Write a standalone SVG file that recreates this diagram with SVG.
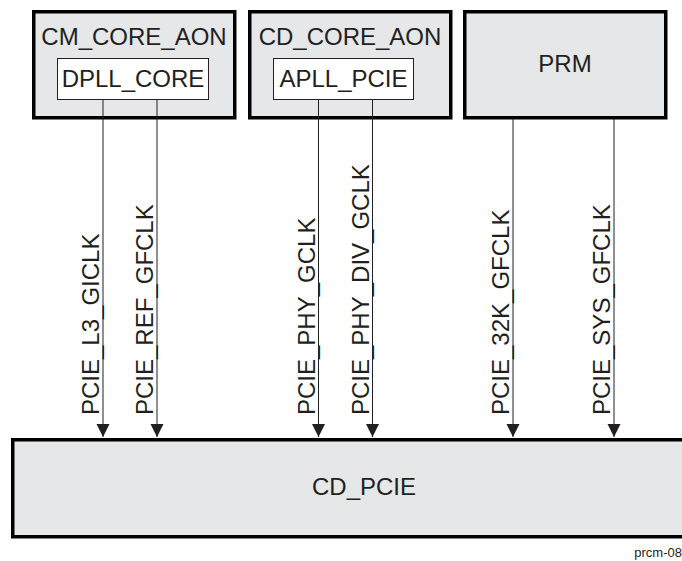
<svg xmlns="http://www.w3.org/2000/svg" width="682" height="561" viewBox="0 0 682 561">
<style>
.outer{fill:#e6e7e8;stroke:#000;stroke-width:3.5}
.inner{fill:#fff;stroke:#231f20;stroke-width:1}
.t{font-family:"Liberation Sans",Arial,sans-serif;font-size:24px;fill:#231f20;text-anchor:middle}
.lbl{font-family:"Liberation Sans",Arial,sans-serif;font-size:24px;fill:#231f20}
.wire{stroke:#231f20;stroke-width:1;fill:none;marker-end:url(#ah)}
.small{font-family:"Liberation Sans",Arial,sans-serif;font-size:13px;fill:#231f20;text-anchor:end}
</style>
<defs>
<marker id="ah" markerUnits="userSpaceOnUse" markerWidth="14" markerHeight="14" refX="13" refY="6.5" orient="auto">
<path d="M0,0 L13,6.5 L0,13 Z" fill="#231f20"/>
</marker>
</defs>
<g id="cm_core_aon">
<rect class="outer" x="33.75" y="11.75" width="201" height="106"/>
<text class="t" x="134" y="45">CM_CORE_AON</text>
</g>
<g id="dpll_core">
<rect class="inner" x="57.5" y="58.5" width="151" height="41"/>
<text class="t" x="133" y="87">DPLL_CORE</text>
</g>
<g id="cd_core_aon">
<rect class="outer" x="249.75" y="11.75" width="201" height="106"/>
<text class="t" x="350" y="45">CD_CORE_AON</text>
</g>
<g id="apll_pcie">
<rect class="inner" x="273.5" y="58.5" width="140" height="41"/>
<text class="t" x="343.5" y="87">APLL_PCIE</text>
</g>
<g id="prm">
<rect class="outer" x="464.75" y="11.75" width="201" height="106"/>
<text class="t" x="565" y="72">PRM</text>
</g>
<g id="cd_pcie">
<rect class="outer" x="12.75" y="439.75" width="710" height="97"/>
<text class="t" x="364" y="495">CD_PCIE</text>
</g>
<g id="connectors">
<path class="wire" d="M103,100 V437"/>
<path class="wire" d="M157,100 V437"/>
<path class="wire" d="M318.5,100 V437"/>
<path class="wire" d="M372.5,100 V437"/>
<path class="wire" d="M513,119 V437"/>
<path class="wire" d="M614,119 V437"/>
<text class="lbl" transform="translate(99,415) rotate(-90)">PCIE_L3_GICLK</text>
<text class="lbl" transform="translate(153,415) rotate(-90)">PCIE_REF_GFCLK</text>
<text class="lbl" transform="translate(314.5,415) rotate(-90)">PCIE_PHY_GCLK</text>
<text class="lbl" transform="translate(368.5,415) rotate(-90)">PCIE_PHY_DIV_GCLK</text>
<text class="lbl" transform="translate(509,415) rotate(-90)">PCIE_32K_GFCLK</text>
<text class="lbl" transform="translate(610,415) rotate(-90)">PCIE_SYS_GFCLK</text>
</g>
<text class="small" x="682" y="557">prcm-08</text>
</svg>
